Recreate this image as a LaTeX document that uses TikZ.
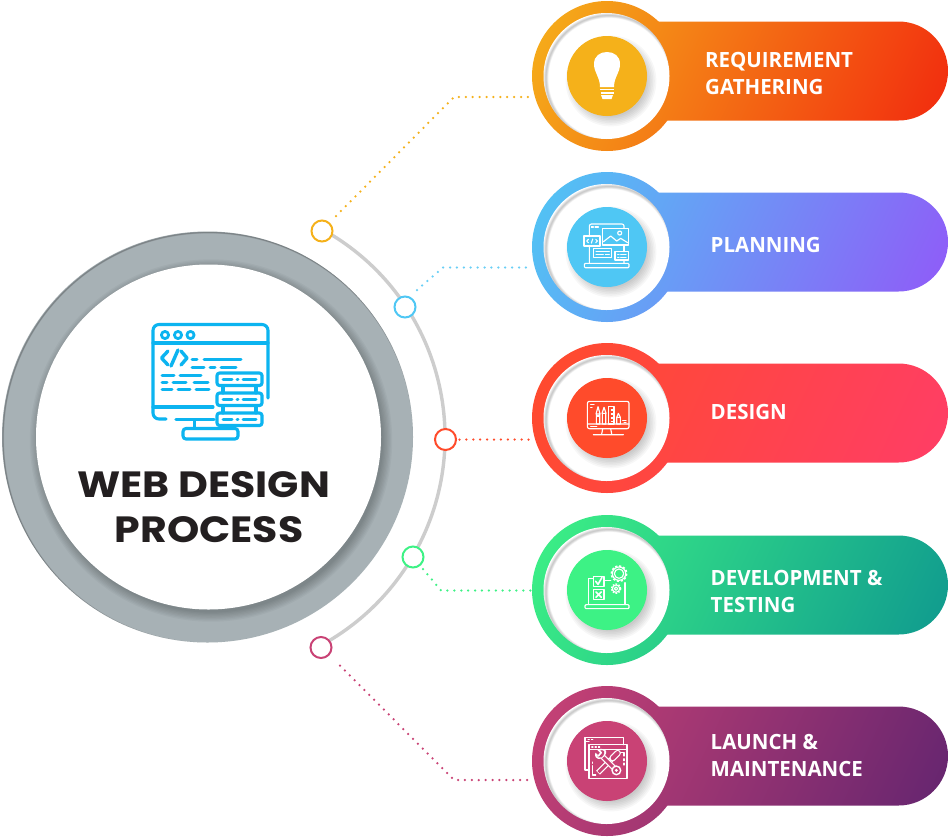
\documentclass[tikz,border=0pt]{standalone}
\usepackage{fontspec}
\setmainfont{Open Sans}
\newfontfamily\titlefont[FakeStretch=1.125]{Poppins}
\newfontfamily\cardfont[FakeStretch=0.975]{Open Sans}
\usetikzlibrary{calc}
\definecolor{ink}{HTML}{231F20}
\definecolor{ringgrey}{HTML}{A7B1B5}
\definecolor{arcgrey}{HTML}{CDCDCD}
\definecolor{iconblue}{HTML}{0CB4F0}
\definecolor{cAa}{HTML}{F5B11A}\definecolor{cAb}{HTML}{F5841A}\definecolor{cAc}{HTML}{F2260E}
\definecolor{cBa}{HTML}{4FC7F4}\definecolor{cBb}{HTML}{6C96F3}\definecolor{cBc}{HTML}{9257F8}
\definecolor{cCa}{HTML}{FF4B2B}\definecolor{cCb}{HTML}{FF4848}\definecolor{cCc}{HTML}{FF3D68}
\definecolor{cDa}{HTML}{3DF285}\definecolor{cDb}{HTML}{27C48A}\definecolor{cDc}{HTML}{0E978F}
\definecolor{cEa}{HTML}{C94275}\definecolor{cEb}{HTML}{973270}\definecolor{cEc}{HTML}{61246F}
\tikzset{
  x=1pt,y=-1pt,
  dotline/.style={line width=2.5pt,line cap=round,dash pattern=on 0pt off 6.9pt},
  pin/.style={circle,draw,fill=white,line width=2pt,minimum size=21pt,inner sep=0pt},
  cardtext/.style={text=white,font=\cardfont\bfseries\fontsize{21}{27}\selectfont,align=left,anchor=west,inner sep=0pt},
  ic/.style={draw=white,line width=1.15pt,line cap=round,line join=round},
  mi/.style={draw=iconblue,line width=3.1pt,line cap=round,line join=round},
  md/.style={draw=iconblue,line width=3pt,line cap=round,line join=round},
}
% soft shadow falling inside a circle from its upper-left edge
\newcommand{\rimshade}[7]{% cx cy r dx dy maxwidth opacity
  \begin{scope}
    \clip (#1,#2) circle[radius=#3];
    \foreach \w in {1,...,6}{
      \draw[black,opacity=#7,line width=\w*#6/6*1pt] (#1+#4,#2+#5) circle[radius=#3];
    }
  \end{scope}}
% soft drop shadow of a disc
\newcommand{\dropshade}[5]{% cx cy r dx dy
  \foreach \w in {1,...,7}{
    \fill[black,opacity=.03] (#1+#4,#2+#5) circle[radius=#3+7-\w*1.6];
  }}
% gradient area of a card
\newcommand{\cardfill}[2]{%
  \shade[left color=#2a,middle color=#2b,right color=#2c,shading angle=65] (520,#1-220) rectangle (960,#1+220);}
\newcommand{\cardshape}[2]{%
  \begin{scope}
    \clip (607,#1) circle[radius=75];
    \cardfill{#1}{#2}
  \end{scope}
  \begin{scope}
    \clip[rounded corners=49.5pt] (607,#1-54.5) rectangle (948,#1+44.5);
    \cardfill{#1}{#2}
  \end{scope}
  \fill[white] (606.5,#1) circle[radius=63];
  \rimshade{606.5}{#1}{63}{2.5}{2.5}{5}{.035}
  \dropshade{607}{#1}{40}{4}{5}
  \fill[#2a] (607,#1) circle[radius=40];
}
\begin{document}
\begin{tikzpicture}
\useasboundingbox (0,0) rectangle (949,836);
\fill[white] (0,0) rectangle (949,836);

% ---- central ring
\fill[ringgrey] (207.5,437) circle[radius=205.5];
\rimshade{207.5}{437}{205.5}{1}{1}{2}{.05}
\begin{scope}
  \clip (207.5,437) circle[radius=205.5];
  \foreach \w in {1,...,8}{
    \fill[black,opacity=.03] (211,440.5) circle[radius=172.5+10-\w*1.3];
  }
\end{scope}
\fill[white] (208.5,437) circle[radius=172.5];

% ---- arc and connectors
\coordinate (hub) at (208,437);
\draw[arcgrey,line width=3.4pt] (hub) ++(-60.5:237) arc[start angle=-60.5,end angle=60.5,radius=237];

\node[pin,draw=cAa] (p1) at (322,231) {};
\node[pin,draw=cBa] (p2) at (405,307) {};
\node[pin,draw=cCa] (p3) at (445.5,439.5) {};
\node[pin,draw=cDa] (p4) at (413,557) {};
\node[pin,draw=cEa] (p5) at (321,647.5) {};

\cardshape{76}{cA}
\cardshape{247}{cB}
\cardshape{418}{cC}
\cardshape{590}{cD}
\cardshape{761}{cE}

\coordinate (t1) at (532,97);
\coordinate (t2) at (532,267.5);
\coordinate (t3) at (532,439.5);
\coordinate (t4) at (532,590.5);
\coordinate (t5) at (532,780);
\draw[dotline,cAa] (p1) ++(14,-15) -- (454,97) -- (t1);
\draw[dotline,cBa!85] (p2) ++(12,-17) -- (443,267.5) -- (t2);
\draw[dotline,cCa] (p3) ++(14,0) -- (t3);
\draw[dotline,cDa] (p4) ++(10,12) -- (441,590.5) -- (t4);
\draw[dotline,cEa] (p5) ++(19,18) -- (454,780) -- (t5);

% ---- card texts
\node[cardtext] (l1) at (705,73) {REQUIREMENT\\GATHERING};
\node[cardtext] (l2) at (710.5,244.5) {PLANNING};
\node[cardtext] (l3) at (710.5,411.5) {DESIGN};
\node[cardtext] (l4) at (710.5,591) {DEVELOPMENT \&\\TESTING};
\node[cardtext] (l5) at (710.5,755) {LAUNCH \&\\MAINTENANCE};

% ---- title
\node[text=ink,font=\titlefont\bfseries\fontsize{36.5}{45}\selectfont,align=center,inner sep=0pt] (title) at (203.5,507.5) {WEB DESIGN\\\hspace*{11pt}PROCESS};

% ---- main icon
\draw[mi,rounded corners=6pt] (166,419) -- (153,419) -- (153,324.5) -- (268,324.5) -- (268,398);
\draw[mi] (153,343) -- (268,343);
\foreach \x in {165,178,190.5} \draw[mi,line width=2.8pt] (\x,335) circle[radius=3.6];
\draw[md,line width=3.4pt] (168,351) -- (161.5,358) -- (168,365);
\draw[md,line width=3.4pt] (181,351) -- (187,358) -- (181,365);
\draw[md,line width=3.4pt] (171,366) -- (178,350);
\draw[md] (192,359) -- (197,359) (204,359) -- (241,359);
\draw[md] (192,367) -- (204,367) (210,367) -- (215,367) (221,367) -- (236,367);
\draw[md] (162,375) -- (174,375) (180,375) -- (201,375);
\draw[md] (162,382) -- (167,382) (173,382) -- (186,382) (194,382) -- (208,382);
\draw[md] (162,389) -- (172,389) (178,389) -- (190,389) (196,389) -- (209,389);
\draw[mi] (153,407) -- (213,407);
\draw[mi] (176,419.5) -- (214,419.5);
\draw[mi] (194.5,420) -- (194.5,428) (225,426) -- (225,428);
\draw[mi,rounded corners=3pt] (183,428.5) rectangle (238,439);
\foreach \y in {379.5,399.5,419.5}{
  \draw[mi,rounded corners=2.5pt,fill=white] (217,\y-6.5) rectangle (262,\y+6);
  \draw[md] (223,\y) -- (232,\y) (237,\y) -- (238,\y) (243,\y) -- (256,\y);
}
\draw[mi] (223,386) -- (223,393) (256,386) -- (256,393) (223,406) -- (223,413) (256,406) -- (256,413);

% ---- bulb
\fill[white] (600,87) .. controls (600,77) and (594,73) .. (594,64)
  .. controls (594,56) and (600,52) .. (607,52)
  .. controls (614,52) and (620,56) .. (620,64)
  .. controls (620,73) and (614,77) .. (614,87) -- cycle;
\draw[white,line width=1.8pt] (600,89.5) -- (614,89.5) (600.5,93) -- (613.5,93);
\fill[white] (601,95) -- (613,95) -- (611.5,99) -- (602.5,99) -- cycle;

% ---- planning icon (zoomed pixels relative to the disc centre)
\begin{scope}[shift={(606.7,246.7)},scale=1/3]
  \draw[ic,rounded corners=2pt] (-52,50) -- (-52,-68) -- (52,-68) -- (52,50);
  \draw[ic,rounded corners=1pt] (-67,50) rectangle (67,63);
  \draw[ic] (-46,-59) -- (-40,-59) (-35,-59) -- (-25,-59);
  \draw[ic,fill=cBa] (-12,-55) rectangle (65,-5);
  \draw[ic] (-10,-15) -- (12,-32) -- (30,-17) -- (42,-25) -- (63,-12);
  \draw[ic] (39,-41) circle[radius=6];
  \draw[ic,fill=cBa] (-68,-32) rectangle (-20,-2);
  \draw[ic] (-55,-22) -- (-60,-17) -- (-55,-12) (-33,-22) -- (-28,-17) -- (-33,-12) (-46,-11) -- (-42,-23);
  \draw[ic,fill=cBa] (-40,5) rectangle (15,32);
  \draw[ic] (-32,14) -- (8,14) (-32,23) -- (-10,23) (-4,23) -- (8,23);
  \draw[ic,fill=cBa] (25,15) rectangle (65,40);
  \draw[ic] (33,24) -- (37,24) (42,24) -- (58,24) (33,32) -- (37,32) (42,32) -- (58,32);
  \draw[ic] (52,-5) -- (52,15);
\end{scope}

% ---- design icon
\begin{scope}[shift={(606.7,418)},scale=1/3]
  \draw[ic,rounded corners=2pt] (-58,-50) rectangle (67,32);
  \draw[ic] (-58,18) -- (67,18) (-12,32) -- (-15,48) (12,32) -- (15,48) (-40,50) -- (50,50);
  \draw[ic] (-48,-40) -- (-38,-40) (-48,-32) -- (-44,-32) (-48,25) -- (-30,25);
  \draw[ic] (-32,-12) -- (-26,-34) -- (-20,-12) -- cycle (-31,-12) rectangle (-21,18);
  \fill[white] (-31,-8) rectangle (-21,-2);
  \draw[ic] (-14,-14) -- (-8,-32) -- (-2,-14) -- cycle (-13,-14) rectangle (-3,18);
  \draw[ic] (5,-34) rectangle (22,18);
  \draw[ic] (14,-24) -- (22,-24) (14,-12) -- (22,-12) (14,0) -- (22,0) (14,10) -- (22,10);
  \draw[ic] (30,-2) -- (35,-14) -- (41,-2) -- cycle (30,-2) rectangle (41,18);
  \draw[ic] (48,8) -- (58,8) (52,14) -- (58,14);
\end{scope}

% ---- development icon
\begin{scope}[shift={(606.7,589.3)},scale=1/3]
  \draw[ic] (-55,46) -- (-55,-32) -- (-42,-32);
  \draw[ic] (55,-20) -- (55,46);
  \draw[ic,rounded corners=1pt] (-65,46) rectangle (67,58);
  \draw[ic,fill=cDa] (-40,-39) rectangle (-8,-9);
  \draw[ic,line width=1.6pt] (-33,-24) -- (-26,-15) -- (-14,-36);
  \draw[ic] (-40,1) rectangle (-8,31);
  \draw[ic,line width=1.6pt] (-32,8) -- (-16,24) (-32,24) -- (-16,8);
  \draw[ic] (-8,-27) -- (12,-27);
  \draw[ic,fill=cDa] (37,-47) circle[radius=14];
  \draw[ic,dash pattern=on 2.2pt off 1.8pt,line width=1.6pt,line cap=butt] (37,-47) circle[radius=23];
  \draw[ic] (37,-47) circle[radius=20];
  \draw[ic] (28,-2) circle[radius=5];
  \draw[ic] (28,-2) circle[radius=11];
  \draw[ic,dash pattern=on 1.6pt off 1.4pt,line width=1.4pt,line cap=butt] (28,-2) circle[radius=14];
\end{scope}

% ---- maintenance icon
\begin{scope}[shift={(606.7,760.7)},scale=1/3]
  \draw[ic] (-53,28) -- (-65,28) -- (-65,-70) -- (50,-70) -- (50,-48);
  \draw[ic] (-65,-57) -- (-53,-57);
  \draw[ic] (-56,-63.5) -- (-52,-63.5) (-46,-63.5) -- (-42,-63.5);
  \draw[ic,line width=1.3pt] (-53,-48) rectangle (61,54);
  \draw[ic,line width=1.3pt] (-53,-33) -- (61,-33);
  \draw[ic] (-45,-41) -- (-41,-41) (-35,-41) -- (-31,-41) (-25,-41) -- (-21,-41);
  \draw[ic] (42,-24) -- (52,-24) -- (52,-14) (52,-6) -- (52,0) (52,7) -- (52,13);
  \draw[ic] (-43,15) -- (-43,43) -- (-33,43) (-43,4) -- (-43,8);
  % screwdriver
  \draw[white,line width=5.4pt,line cap=butt] (-26,36) -- (14,-4);
  \draw[cEa,line width=3pt,line cap=butt] (-24.5,34.5) -- (14,-4);
  \draw[white,line width=6.4pt,line cap=round] (17,-7) -- (33,-23);
  \draw[cEa,line width=4pt,line cap=round] (18,-8) -- (33,-23);
  % wrench
  \draw[white,line width=5.4pt,line cap=butt] (-12,-12) -- (26,26);
  \draw[cEa,line width=3pt,line cap=butt] (-12,-12) -- (26,26);
  \fill[white] (-2,-30) .. controls (-8,-36) and (-22,-38) .. (-28,-32) -- (-20,-24) -- (-26,-17) -- (-34,-24)
     .. controls (-38,-14) and (-32,-2) .. (-16,-6) -- (-6,-14) .. controls (-2,-20) and (-1,-25) .. (-2,-30) -- cycle;
  \fill[cEa] (-8,-29) .. controls (-12,-32) and (-16,-32) .. (-19,-31) -- (-13,-24) -- (-24,-11) -- (-29,-16)
     .. controls (-29,-10) and (-22,-8) .. (-16,-10) -- (-10,-16) .. controls (-7,-20) and (-7,-25) .. (-8,-29) -- cycle;
  \draw[ic,fill=cEa,line width=1.4pt] (29,29) circle[radius=13];
  \fill[white] (29,29) circle[radius=5];
\end{scope}
\end{tikzpicture}
\end{document}
